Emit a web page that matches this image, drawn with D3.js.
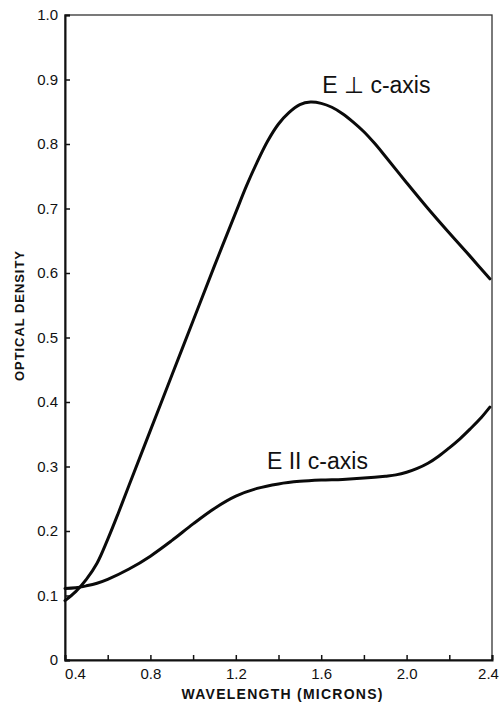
<!DOCTYPE html>
<html>
<head>
<meta charset="utf-8">
<script src="https://cdn.jsdelivr.net/npm/d3@7"></script>
<style>
  body { margin: 0; background: #fff; }
  text { font-family: "Liberation Sans", Arial, sans-serif; fill: #111; }
</style>
</head>
<body>
<svg id="chart" width="501" height="702"></svg>
<script>
// values
var perpX = [0.40, 0.45, 0.50, 0.55, 0.60, 0.65, 0.70, 0.80, 0.90, 1.00, 1.10, 1.20, 1.25, 1.30, 1.35, 1.40, 1.45, 1.50, 1.55, 1.60, 1.65, 1.70, 1.75, 1.80, 1.85, 1.90, 2.00, 2.10, 2.20, 2.30, 2.39];
var perpY = [0.092, 0.106, 0.125, 0.150, 0.187, 0.228, 0.271, 0.356, 0.441, 0.526, 0.611, 0.694, 0.735, 0.772, 0.805, 0.831, 0.849, 0.861, 0.865, 0.863, 0.857, 0.847, 0.834, 0.819, 0.801, 0.781, 0.740, 0.700, 0.662, 0.625, 0.591];

var parX = [0.40, 0.45, 0.50, 0.55, 0.60, 0.70, 0.80, 0.90, 1.00, 1.10, 1.20, 1.30, 1.40, 1.50, 1.60, 1.70, 1.80, 1.90, 1.95, 2.00, 2.05, 2.10, 2.15, 2.20, 2.25, 2.30, 2.35, 2.39];
var parY = [0.111, 0.112, 0.115, 0.119, 0.125, 0.141, 0.161, 0.185, 0.211, 0.235, 0.254, 0.266, 0.273, 0.277, 0.279, 0.280, 0.282, 0.285, 0.287, 0.291, 0.297, 0.305, 0.316, 0.329, 0.343, 0.359, 0.376, 0.392];

var xTicks = [0.4, 0.6, 0.8, 1.0, 1.2, 1.4, 1.6, 1.8, 2.0, 2.2, 2.4];
var xTickLabels = ["0.4", "0.8", "1.2", "1.6", "2.0", "2.4"];
var yTicks = [0, 0.1, 0.2, 0.3, 0.4, 0.5, 0.6, 0.7, 0.8, 0.9, 1.0];
var yTickLabels = ["0", "0.1", "0.2", "0.3", "0.4", "0.5", "0.6", "0.7", "0.8", "0.9", "1.0"];

var curveLabels = ["E \u22A5 c-axis", "E II c-axis"];
var curveLabelX = [1.605, 1.346];
var curveLabelY = [0.879, 0.296];

var svg = d3.select("#chart");
var x = d3.scaleLinear().domain([0.4, 2.4]).range([65, 492]);
var y = d3.scaleLinear().domain([0, 1.0]).range([660, 15]);

// frame
svg.append("rect")
  .attr("x", x(0.4)).attr("y", y(1.0))
  .attr("width", x(2.4) - x(0.4)).attr("height", y(0) - y(1.0))
  .attr("fill", "none").attr("stroke", "#333").attr("stroke-width", 1.3);

var xAxis = d3.axisBottom(x).tickValues(xTicks).tickSize(-5)
  .tickFormat(function(d) {
    var s = d3.format(".1f")(d);
    return xTickLabels.indexOf(s) >= 0 ? s : "";
  });
var gx = svg.append("g").attr("transform", "translate(0," + y(0) + ")").call(xAxis);
gx.select(".domain").attr("stroke", "#111").attr("stroke-width", 2);
gx.selectAll(".tick line").attr("stroke", "#111").attr("stroke-width", 1.5);
gx.selectAll(".tick text").attr("font-size", 15).attr("y", 8)
  .attr("dx", function(d, i) { return i == 0 ? 10 : (i == xTicks.length - 1 ? -4 : 0); })
  .style("font-family", "Liberation Sans, Arial, sans-serif");

var yAxis = d3.axisLeft(y).tickValues(yTicks).tickSize(-5)
  .tickFormat(function(d, i) { return yTickLabels[i]; });
var gy = svg.append("g").attr("transform", "translate(" + x(0.4) + ",0)").call(yAxis);
gy.select(".domain").attr("stroke", "#111").attr("stroke-width", 2);
gy.selectAll(".tick line").attr("stroke", "#111").attr("stroke-width", 1.5);
gy.selectAll(".tick text").attr("font-size", 15).attr("x", -7)
  .style("font-family", "Liberation Sans, Arial, sans-serif");

// axis titles
svg.append("text")
  .attr("x", 282).attr("y", 699)
  .attr("text-anchor", "middle")
  .attr("font-size", 14).attr("font-weight", "bold")
  .attr("textLength", 201).attr("lengthAdjust", "spacing")
  .text("WAVELENGTH (MICRONS)");

svg.append("text")
  .attr("transform", "translate(24,316) rotate(-90)")
  .attr("text-anchor", "middle")
  .attr("font-size", 13).attr("font-weight", "bold")
  .attr("textLength", 130).attr("lengthAdjust", "spacing")
  .text("OPTICAL DENSITY");

// curves
var line = d3.line()
  .x(function(d) { return x(d[0]); })
  .y(function(d) { return y(d[1]); })
  .curve(d3.curveCatmullRom.alpha(0.5));

var series = [d3.zip(perpX, perpY), d3.zip(parX, parY)];
svg.selectAll("path.curve")
  .data(series)
  .enter().append("path")
  .attr("class", "curve")
  .attr("d", line)
  .attr("fill", "none")
  .attr("stroke", "#0a0a0a")
  .attr("stroke-width", 3)
  .attr("stroke-linecap", "round");

svg.selectAll("text.lbl")
  .data(curveLabels)
  .enter().append("text")
  .attr("class", "lbl")
  .attr("x", function(d, i) { return x(curveLabelX[i]); })
  .attr("y", function(d, i) { return y(curveLabelY[i]); })
  .attr("font-size", 23)
  .text(function(d) { return d; });
</script>
</body>
</html>
